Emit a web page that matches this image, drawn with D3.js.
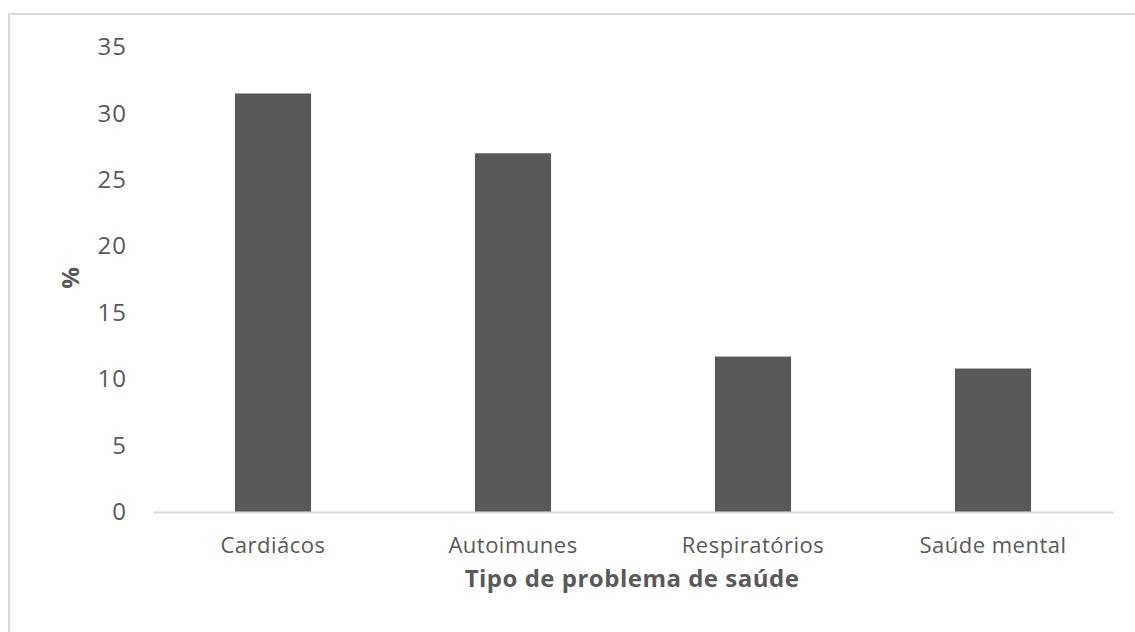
<!DOCTYPE html>
<html>
<head>
<meta charset="utf-8">
<script src="https://cdn.jsdelivr.net/npm/d3@7"></script>
<style>
  html, body { margin: 0; padding: 0; background: #fff; }
  svg { display: block; }
  text { font-family: "Open Sans", "Noto Sans", sans-serif; }
</style>
</head>
<body>
<script>
const categories = ["Cardiácos", "Autoimunes", "Respiratórios", "Saúde mental"];
const values = [31.5, 27.0, 11.7, 10.8];
const yTicks = [0, 5, 10, 15, 20, 25, 30, 35];
const xTitle = "Tipo de problema de saúde";
const yTitle = "%";

const W = 1135, H = 632;
const svg = d3.select("body").append("svg").attr("width", W).attr("height", H);

// outer chart border (extends past the visible area on right/bottom)
svg.append("rect")
  .attr("x", 9).attr("y", 14)
  .attr("width", W + 20).attr("height", H + 20)
  .attr("fill", "none").attr("stroke", "#d9d9d9").attr("stroke-width", 2);

const x = d3.scaleBand().domain(categories).range([153, 1113]).paddingInner(0.683).paddingOuter(0.3415);
const y = d3.scaleLinear().domain([0, 35]).range([512, 47]);

// bars
svg.append("g").selectAll("rect").data(values).join("rect")
  .attr("x", (d, i) => x(categories[i]))
  .attr("y", d => y(d))
  .attr("width", x.bandwidth())
  .attr("height", d => y(0) - y(d))
  .attr("fill", "#595959");

// y axis labels
const yAxis = d3.axisLeft(y).tickValues(yTicks).tickSize(0).tickPadding(0);
const gy = svg.append("g").attr("transform", "translate(127,0)").call(yAxis);
gy.select(".domain").remove();
gy.selectAll("text").attr("fill", "#595959").style("font-size", "24px")
  .style("letter-spacing", "1px")
  .attr("font-family", "Open Sans, Noto Sans, sans-serif");

// x axis
const xAxis = d3.axisBottom(x).tickSize(0).tickPadding(0);
const gx = svg.append("g").attr("transform", "translate(0,512)").call(xAxis);
gx.select(".domain").attr("stroke", "#d9d9d9").attr("stroke-width", 2);
gx.selectAll("text").attr("fill", "#595959").style("font-size", "22px")
  .style("letter-spacing", "0.5px")
  .attr("font-family", "Open Sans, Noto Sans, sans-serif")
  .attr("dy", null).attr("y", 41);

// axis titles
svg.append("text").attr("x", 632).attr("y", 587).attr("text-anchor", "middle")
  .attr("fill", "#595959").style("font-size", "24px").style("font-weight", "bold")
  .style("letter-spacing", "0.5px").text(xTitle);
svg.append("text").attr("transform", "translate(79,278) rotate(-90)").attr("text-anchor", "middle")
  .attr("fill", "#595959").style("font-size", "24px").style("font-weight", "bold").text(yTitle);
</script>
</body>
</html>
